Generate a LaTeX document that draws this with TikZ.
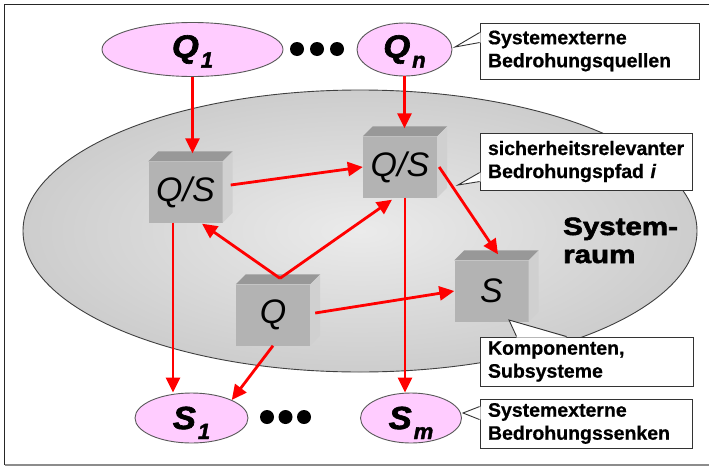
\documentclass[tikz,border=0pt]{standalone}
\usepackage{fontspec}
\usepackage{graphicx}
\setmainfont{Liberation Sans}
\newfontfamily\heavyit[FakeBold=2]{Liberation Sans Bold Italic}
\newfontfamily\heavy[FakeBold=2.2]{Liberation Sans Bold}
\newfontfamily\boldish[FakeBold=0.6]{Liberation Sans Bold}
\usetikzlibrary{arrows.meta,calc,shapes.geometric}
\definecolor{pinkfill}{HTML}{FFCCFF}
\definecolor{cubefront}{HTML}{B3B3B3}
\definecolor{cubetop}{HTML}{989898}
\definecolor{cuberight}{HTML}{D0D0D0}
\definecolor{roominner}{HTML}{EBEBEB}
\definecolor{roomouter}{HTML}{CDCDCD}
\newcommand\sublabel[2]{\scalebox{1.08}[1]{#1}\kern2pt\smash{\raisebox{-10pt}{\fontsize{22}{22}\selectfont #2}}}
\newcommand\mycube[3]{%
  \node[cubefrontstyle] (#1) at #2 {#3};
  \fill[cubetop] (#1.north west) -- ([shift={(10pt,10pt)}]#1.north west) -- ([shift={(10pt,10pt)}]#1.north east) -- (#1.north east) -- cycle;
  \fill[cuberight] (#1.north east) -- ([shift={(10pt,10pt)}]#1.north east) -- ([shift={(10pt,10pt)}]#1.south east) -- (#1.south east) -- cycle;
}
\begin{document}
\begin{tikzpicture}[x=1pt,y=-1pt,
  ext/.style={ellipse, draw=black!65, line width=0.9pt, fill=pinkfill, inner sep=0pt,
    font=\heavyit\fontsize{32}{32}\selectfont},
  arr/.style={draw=red, line width=2.8pt, -{Triangle[length=15pt,width=14pt]}},
  cubefrontstyle/.style={fill=cubefront, minimum width=74pt, minimum height=61pt, inner sep=0pt,
    font=\itshape\fontsize{34}{34}\selectfont},
  callout/.style={draw=black!80, line width=0.9pt, fill=white, align=left, inner xsep=8pt,
    font=\boldish\fontsize{19.5}{23}\selectfont},
  wedge/.style={draw=black!80, line width=0.9pt},
  dot/.style={fill=black},
  roomtext/.style={anchor=base west, inner sep=0pt, font=\heavy\fontsize{25}{28}\selectfont}
]
\useasboundingbox (0,0) rectangle (709,466);
% frame
\draw[black!85, line width=0.9pt] (4.5,465) -- (4.5,4.5) -- (715,4.5);
\draw[black!45, line width=1.2pt] (4.5,465) -- (715,465);
% system room
\shade[inner color=roominner, outer color=roomouter, draw=black!75, line width=0.9pt]
  (360,231) ellipse [x radius=337, y radius=141];
\node[roomtext] (sys1) at (563,235) {\scalebox{1.18}[1]{System-}};
\node[roomtext] (sys2) at (563,263) {\scalebox{1.18}[1]{raum}};
% external sources and sinks
\node[ext, minimum width=181pt, minimum height=54pt] (Q1) at (192.5,49.5) {\sublabel{Q}{1}};
\node[ext, minimum width=95pt, minimum height=53pt] (Qn) at (404.5,49.5) {\sublabel{Q}{n}};
\node[ext, minimum width=113pt, minimum height=50pt] (S1) at (191.5,418) {\sublabel{S}{1}};
\node[ext, minimum width=101pt, minimum height=50pt] (Sm) at (411,418) {\sublabel{S}{m}};
\foreach \x in {297,317,337} \fill[dot] (\x,49) circle [radius=7];
\foreach \x in {267,285.5,304} \fill[dot] (\x,417) circle [radius=7];
% cubes
\mycube{L}{(185.5,192)}{Q/S}
\mycube{R}{(400,167)}{Q/S}
\mycube{Q}{(273,315)}{Q}
\mycube{S}{(491.5,291)}{S}
% helper points
\coordinate (Ltop) at ([yshift=8pt]L.north);
\coordinate (Rtop) at ([yshift=8pt]R.north);
\coordinate (Lb) at ([xshift=-12.5pt]L.south);
\coordinate (Rb) at ([xshift=5pt]R.south);
\coordinate (Qt) at ([shift={(7pt,6pt)}]Q.north);
% arrows
\draw[arr] (Q1.south) -- (Q1.south |- Ltop);
\draw[arr] (Qn.south) -- (Qn.south |- Rtop);
\draw[arr] ([shift={(8pt,7pt)}]L.east) -- (R.west);
\draw[arr] (Lb) -- (Lb |- S1.north);
\draw[arr] (Qt) -- ([shift={(16.5pt,-1pt)}]L.south);
\draw[arr] (Qt) -- ([shift={(-8pt,-2pt)}]R.south);
\draw[arr] ([shift={(5pt,2pt)}]Q.east) -- (S.west);
\draw[arr] (Q.south) -- (S1.north east);
\draw[arr] (Rb) -- (Rb |- Sm.north);
\draw[arr] ([xshift=2pt]R.east) -- ([shift={(6.5pt,6pt)}]S.north);
% callouts
\node[callout, text width=203pt, minimum height=56pt] (c1) at (589.5,51) {Systemexterne\\Bedrohungsquellen};
\coordinate (t1) at (455,47);
\fill[white] ([shift={(1pt,-10pt)}]c1.north west) -- (t1) -- ([shift={(1pt,-20pt)}]c1.north west) -- cycle;
\draw[wedge] ([yshift=-10pt]c1.north west) -- (t1) -- ([yshift=-20pt]c1.north west);

\node[callout, text width=196pt, minimum height=57pt] (c2) at (586,161.5) {sicherheitsrelevanter\\Bedrohungspfad \textit{i}};
\coordinate (t2) at (458,185);
\fill[white] ([shift={(1pt,-40pt)}]c2.north west) -- (t2) -- ([shift={(1pt,-49pt)}]c2.north west) -- cycle;
\draw[wedge] ([yshift=-40pt]c2.north west) -- (t2) -- ([yshift=-49pt]c2.north west);

\node[callout, text width=197pt, minimum height=49pt] (c3) at (586.5,361.5) {Komponenten,\\Subsysteme};
\coordinate (t3) at (509,320);
\fill[white] ([shift={(37pt,-1pt)}]c3.north west) -- (t3) -- ([shift={(87pt,-1pt)}]c3.north west) -- cycle;
\draw[wedge] ([xshift=37pt]c3.north west) -- (t3) -- ([xshift=87pt]c3.north west);

\node[callout, text width=196pt, minimum height=49pt] (c4) at (586,423.5) {Systemexterne\\Bedrohungssenken};
\coordinate (t4) at (463,413);
\fill[white] ([shift={(1pt,-8pt)}]c4.north west) -- (t4) -- ([shift={(1pt,-21pt)}]c4.north west) -- cycle;
\draw[wedge] ([yshift=-8pt]c4.north west) -- (t4) -- ([yshift=-21pt]c4.north west);
\end{tikzpicture}
\end{document}
